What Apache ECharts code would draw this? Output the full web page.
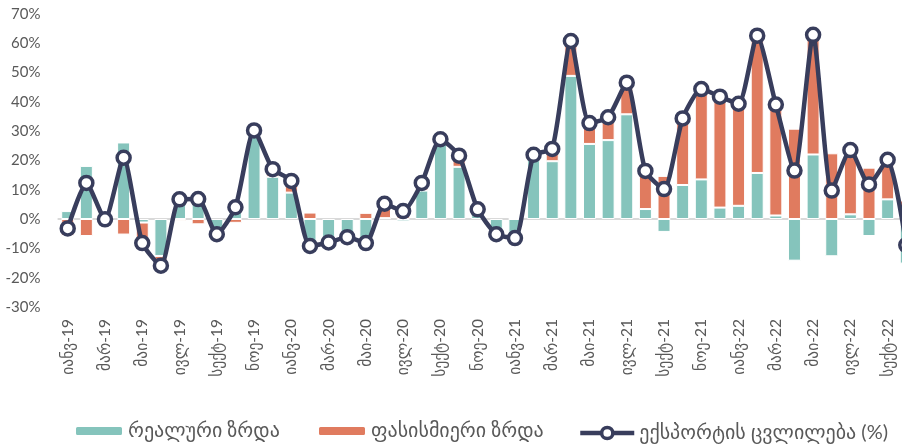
<!DOCTYPE html>
<html>
<head>
<meta charset="utf-8">
<script src="https://cdn.jsdelivr.net/npm/echarts@6/dist/echarts.min.js"></script>
<style>
html,body{margin:0;padding:0;background:#fff;overflow:hidden;width:902px;height:446px;}
#chart{width:916px;height:446px;}
</style>
</head>
<body>
<div id="chart"></div>
<script>
const categories = [
  'იანვ-19','თებ-19','მარ-19','აპრ-19','მაი-19','ივნ-19','ივლ-19','აგვ-19','სექტ-19','ოქტ-19','ნოე-19','დეკ-19',
  'იანვ-20','თებ-20','მარ-20','აპრ-20','მაი-20','ივნ-20','ივლ-20','აგვ-20','სექტ-20','ოქტ-20','ნოე-20','დეკ-20',
  'იანვ-21','თებ-21','მარ-21','აპრ-21','მაი-21','ივნ-21','ივლ-21','აგვ-21','სექტ-21','ოქტ-21','ნოე-21','დეკ-21',
  'იანვ-22','თებ-22','მარ-22','აპრ-22','მაი-22','ივნ-22','ივლ-22','აგვ-22','სექტ-22','ოქტ-22'
];
const realGrowth = [2.7, 18.1, 0.5, 26.1, -1.2, -12.6, 7.4, 8.5, -5.2, 5.3, 30.2, 14.4,
  9.0, -11.4, -8.0, -6.2, -10.3, 0.3, -0.8, 9.7, 25.9, 17.8, 3.4, -5.2,
  -7.0, 20.1, 19.7, 48.8, 25.6, 26.9, 35.7, 3.4, -4.4, 11.6, 13.5, 3.9,
  4.5, 15.7, 1.2, -14.2, 22.0, -12.7, 1.6, -5.8, 6.7, -15.2];
const priceGrowth = [-5.8, -5.8, -0.6, -5.3, -7.0, -3.3, -0.7, -1.8, null, -1.3, null, 2.6,
  3.8, 2.2, null, null, 2.1, 4.9, 3.5, 2.6, 1.3, 3.8, null, null,
  0.5, 1.8, 4.2, 12.0, 7.1, 7.8, 10.8, 13.0, 14.7, 22.7, 30.8, 37.8,
  34.8, 46.9, 37.8, 30.8, 40.8, 22.4, 22.0, 17.5, 13.5, 6.3];
const exportChange = [-3.2, 12.3, -0.1, 20.9, -8.2, -15.9, 6.7, 6.8, -5.2, 4.0, 30.2, 17.0,
  13.0, -9.2, -8.0, -6.2, -8.2, 5.2, 2.7, 12.3, 27.2, 21.6, 3.3, -5.2,
  -6.5, 21.9, 23.9, 60.7, 32.7, 34.7, 46.5, 16.4, 10.2, 34.3, 44.3, 41.7,
  39.3, 62.5, 39.0, 16.5, 62.8, 9.7, 23.5, 11.8, 20.2, -8.9];
const seriesNames = ['რეალური ზრდა', 'ფასისმიერი ზრდა', 'ექსპორტის ცვლილება (%)'];
const yMin = -30, yMax = 70, yStep = 10;

const FONT = 'Lato, "DejaVu Sans", sans-serif';
const TEXT = '#595959';
const legendBase = {
  bottom: 5, padding: 0, itemHeight: 10, itemGap: 0,
  textStyle: {fontFamily: FONT, fontSize: 20, color: TEXT}
};
const chart = echarts.init(document.getElementById('chart'), null, {renderer: 'canvas'});
chart.setOption({
  animation: false,
  backgroundColor: '#ffffff',
  textStyle: {fontFamily: FONT},
  grid: {left: 58.4, right: 0.4, top: 13.7, bottom: 139, containLabel: false},
  legend: [
    Object.assign({}, legendBase, {left: 74, itemWidth: 48, data: [seriesNames[0]]}),
    Object.assign({}, legendBase, {left: 317, itemWidth: 48, data: [seriesNames[1]]}),
    Object.assign({}, legendBase, {left: 578, bottom: 3, itemWidth: 54, itemHeight: 14,
      lineStyle: {width: 4.5}, itemStyle: {borderWidth: 3.5},
      data: [seriesNames[2]]})
  ],
  xAxis: [{
    type: 'category', data: categories, boundaryGap: true,
    axisLine: {show: false, onZero: false}, axisTick: {show: false},
    axisLabel: {interval: 1, rotate: 90, margin: 12, fontFamily: FONT, fontSize: 15.5, color: TEXT}
  }, {
    type: 'category', data: categories, boundaryGap: true, position: 'bottom',
    axisLine: {show: true, onZero: true, lineStyle: {color: '#d9d9d9', width: 2}},
    axisTick: {show: false}, axisLabel: {show: false}
  }],
  yAxis: {
    type: 'value', min: yMin, max: yMax, interval: yStep,
    axisLine: {show: false}, axisTick: {show: false}, splitLine: {show: false},
    axisLabel: {formatter: '{value}%', margin: 18, fontFamily: FONT, fontSize: 15, color: TEXT}
  },
  series: [{
    name: seriesNames[0], type: 'bar', stack: 'g', data: realGrowth, barWidth: 13,
    itemStyle: {color: '#85c4bc', borderColor: '#ffffff', borderWidth: 1}
  }, {
    name: seriesNames[1], type: 'bar', stack: 'g', data: priceGrowth, barWidth: 13,
    itemStyle: {color: '#e07b5f', borderColor: '#ffffff', borderWidth: 1}
  }, {
    name: seriesNames[2], type: 'line', data: exportChange, smooth: 0.2,
    symbol: 'circle', symbolSize: 13, showAllSymbol: true,
    lineStyle: {color: '#383d5c', width: 4.5},
    itemStyle: {color: '#ffffff', borderColor: '#383d5c', borderWidth: 3.5},
    z: 5
  }]
});
</script>
</body>
</html>
